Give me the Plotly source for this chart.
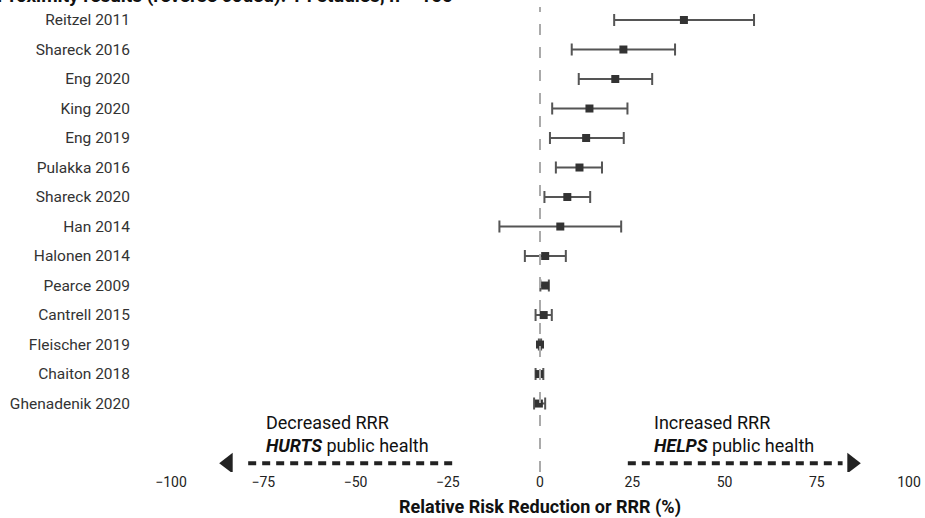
import plotly.graph_objects as go

studies = ["Reitzel 2011", "Shareck 2016", "Eng 2020", "King 2020", "Eng 2019",
           "Pulakka 2016", "Shareck 2020", "Han 2014", "Halonen 2014", "Pearce 2009",
           "Cantrell 2015", "Fleischer 2019", "Chaiton 2018", "Ghenadenik 2020"]
rrr = [39.0, 22.6, 20.4, 13.4, 12.5, 10.7, 7.4, 5.5, 1.4, 1.4, 1.0, 0.0, -0.2, -0.3]
ci_low = [20.1, 8.6, 10.5, 3.3, 2.7, 4.3, 1.2, -11.0, -4.1, 0.1, -1.2, -0.3, -1.2, -1.6]
ci_high = [58.0, 36.6, 30.4, 23.7, 22.7, 16.8, 13.6, 22.0, 7.0, 2.4, 3.2, 0.3, 0.9, 1.4]

x_ticks = [-100, -75, -50, -25, 0, 25, 50, 75, 100]

title_text = "Proximity results (reverse coded): 14 studies, n = 100"
x_title = "Relative Risk Reduction or RRR (%)"
left_note = "Decreased RRR<br><b><i>HURTS</i></b> public health"
right_note = "Increased RRR<br><b><i>HELPS</i></b> public health"

# arrow geometry (data units)
arrow_y = 15.02
left_arrow = (-23.8, -80.0, -84.5)   # dash start, dash end, head centre
right_arrow = (23.8, 82.0, 84.5)

err_plus = [h - c for h, c in zip(ci_high, rrr)]
err_minus = [c - l for c, l in zip(rrr, ci_low)]

FONT = "Roboto"

fig = go.Figure()
fig.add_trace(go.Scatter(
    x=rrr, y=studies, mode="markers",
    marker=dict(symbol="square", size=8, color="#333333"),
    error_x=dict(type="data", symmetric=False, array=err_plus, arrayminus=err_minus,
                 color="#555555", thickness=2, width=6),
    showlegend=False, hoverinfo="x+y",
))

for (x0, x1, head), sym in ((left_arrow, "triangle-left"), (right_arrow, "triangle-right")):
    fig.add_trace(go.Scatter(
        x=[x0, x1], y=[arrow_y, arrow_y], mode="lines",
        line=dict(color="#222222", width=4, dash="8px,6px"),
        showlegend=False, hoverinfo="skip", yaxis="y2"))
    fig.add_trace(go.Scatter(
        x=[head], y=[arrow_y], mode="markers",
        marker=dict(symbol=sym, size=18, color="#222222"),
        showlegend=False, hoverinfo="skip", yaxis="y2"))

r_top = -0.678
r_bottom = 15.32

fig.update_layout(
    width=925, height=518,
    margin=dict(l=171, r=16, t=0, b=46),
    plot_bgcolor="white", paper_bgcolor="white",
    font=dict(family=FONT, size=14, color="#333333"),
    xaxis=dict(range=[-100, 100], tickvals=x_ticks,
               ticktext=[str(v).replace("-", "\u2212") for v in x_ticks],
               showgrid=False, zeroline=False, showline=False, ticks="",
               tickfont=dict(size=14, color="#222222"),
               title=dict(text="<b>" + x_title + "</b>", standoff=12,
                          font=dict(size=18, color="#111111"))),
    yaxis=dict(type="category", categoryarray=studies, range=[r_bottom, r_top],
               showgrid=False, zeroline=False, showline=False, ticks="",
               ticklabelstandoff=40, tickfont=dict(size=15.5, color="#333333")),
    yaxis2=dict(overlaying="y", range=[r_bottom, r_top], visible=False),
    shapes=[dict(type="line", xref="x", yref="paper", x0=0, x1=0, y0=0.0, y1=0.985,
                 line=dict(color="#aaaaaa", width=2, dash="11px,12px"), layer="above")],
    annotations=[
        dict(text="<b>" + title_text + "</b>", xref="x", yref="paper", x=-23, y=1,
             xanchor="right", yanchor="bottom", yshift=-9, showarrow=False,
             font=dict(size=19, color="#111111")),
        dict(text=left_note, xref="x", yref="y2", x=-74.8, y=14.04, xanchor="left",
             yanchor="middle", align="left", showarrow=False,
             font=dict(size=18, color="#111111")),
        dict(text=right_note, xref="x", yref="y2", x=30.3, y=14.04, xanchor="left",
             yanchor="middle", align="left", showarrow=False,
             font=dict(size=18, color="#111111")),
    ],
)

fig.write_html("out.html", config={"displayModeBar": False},
               post_script="document.body.style.margin='0';")
